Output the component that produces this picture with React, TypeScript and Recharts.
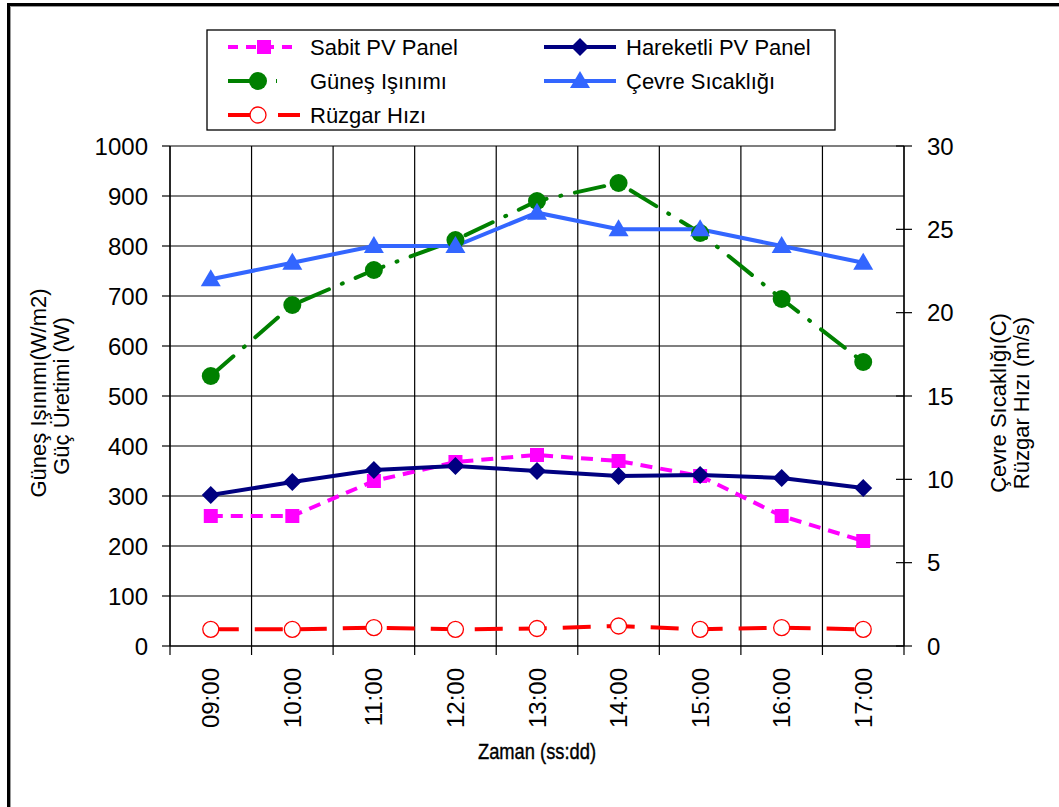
import React from "react";
import { CartesianGrid, Line, LineChart, XAxis, YAxis } from "recharts";

const hours = ["09:00", "10:00", "11:00", "12:00", "13:00", "14:00", "15:00", "16:00", "17:00"];
const sabitPV = [260, 260, 330, 368, 382, 370, 340, 260, 210];
const hareketliPV = [302, 328, 352, 360, 350, 340, 342, 336, 316];
const gunesIsinimi = [540, 682, 752, 812, 890, 926, 826, 694, 568];
const cevreSicakligi = [22, 23, 24, 24, 26, 25, 25, 24, 23];
const ruzgarHizi = [1.0, 1.0, 1.1, 1.0, 1.05, 1.2, 1.0, 1.1, 1.0];
const leftTicks = [0, 100, 200, 300, 400, 500, 600, 700, 800, 900, 1000];
const rightTicks = [0, 5, 10, 15, 20, 25, 30];

const data = hours.map((saat, i) => ({
  saat,
  sabit: sabitPV[i],
  hareketli: hareketliPV[i],
  gunes: gunesIsinimi[i],
  cevre: cevreSicakligi[i],
  ruzgar: ruzgarHizi[i],
}));

const FONT = '"Liberation Sans", Arial, sans-serif';
const W = 1059;
const H = 807;
const LEFT = 170;
const RIGHT = 904;
const TOP = 146;
const BOTTOM = 646;
const BAND = (RIGHT - LEFT) / hours.length;

const colors = {
  sabit: "#ff00ff",
  hareketli: "#000080",
  gunes: "#008000",
  cevre: "#3366ff",
  ruzgar: "#ff0000",
};
const dashes = {
  sabit: "12 8",
  gunes: "30 14 1 14",
  ruzgar: "28 16",
};

const Square = ({ cx, cy }: any) => (
  <rect x={cx - 7} y={cy - 7} width={14} height={14} fill={colors.sabit} />
);
const Diamond = ({ cx, cy }: any) => (
  <polygon points={`${cx},${cy - 9} ${cx + 9},${cy} ${cx},${cy + 9} ${cx - 9},${cy}`} fill={colors.hareketli} />
);
const Dot = ({ cx, cy }: any) => <circle cx={cx} cy={cy} r={9} fill={colors.gunes} />;
const Triangle = ({ cx, cy }: any) => (
  <polygon points={`${cx},${cy - 10} ${cx + 10},${cy + 7} ${cx - 10},${cy + 7}`} fill={colors.cevre} />
);
const OpenDot = ({ cx, cy }: any) => (
  <circle cx={cx} cy={cy} r={8} fill="#fff" stroke={colors.ruzgar} strokeWidth={1.3} />
);

const HourTick = ({ x, payload, index }: any) => (
  <g>
    <line x1={x - BAND / 2} x2={x - BAND / 2} y1={BOTTOM} y2={BOTTOM + 9} stroke="#000" strokeWidth={1.2} />
    {index === hours.length - 1 && (
      <line x1={x + BAND / 2} x2={x + BAND / 2} y1={BOTTOM} y2={BOTTOM + 9} stroke="#000" strokeWidth={1.2} />
    )}
    <text
      x={x}
      y={668}
      transform={`rotate(-90 ${x} 668)`}
      textAnchor="end"
      dominantBaseline="central"
      fontSize={24}
      fontFamily={FONT}
      fill="#000"
    >
      {payload.value}
    </text>
  </g>
);

const LeftTick = ({ y, payload }: any) => (
  <g>
    <line x1={LEFT - 8} x2={LEFT} y1={y} y2={y} stroke="#000" strokeWidth={1.2} />
    <text x={148} y={y} textAnchor="end" dominantBaseline="central" fontSize={24} fontFamily={FONT} fill="#000">
      {payload.value}
    </text>
  </g>
);

const RightTick = ({ y, payload }: any) => (
  <g>
    <line x1={RIGHT - 8} x2={RIGHT + 8} y1={y} y2={y} stroke="#000" strokeWidth={1.2} />
    <text x={927} y={y} textAnchor="start" dominantBaseline="central" fontSize={24} fontFamily={FONT} fill="#000">
      {payload.value}
    </text>
  </g>
);

const VerticalTitle = ({ lines }: { lines: { x: number; y: number; text: string }[] }) => (
  <g>
    {lines.map((l) => (
      <text
        key={l.text}
        x={l.x}
        y={l.y}
        transform={`rotate(-90 ${l.x} ${l.y})`}
        textAnchor="middle"
        dominantBaseline="central"
        fontSize={22}
        fontFamily={FONT}
        fill="#000"
      >
        {l.text}
      </text>
    ))}
  </g>
);

// narrow, slightly heavy x-axis title
const TimeTitle = () => (
  <text
    x={(LEFT + RIGHT) / 2}
    y={751}
    textAnchor="middle"
    dominantBaseline="central"
    fontSize={22}
    fontFamily={FONT}
    fill="#000"
    stroke="#000"
    strokeWidth={0.4}
    textLength={118}
    lengthAdjust="spacingAndGlyphs"
  >
    Zaman (ss:dd)
  </text>
);

const leftTitle = [
  { x: 38, y: 393, text: "Güneş Işınımı(W/m2)" },
  { x: 61, y: 396, text: "Güç Üretimi (W)" },
];
const rightTitle = [
  { x: 998, y: 403, text: "Çevre Sıcaklığı(C)" },
  { x: 1021, y: 403, text: "Rüzgar Hızı (m/s)" },
];

function ChartLegend() {
  const row = (y: number, x0: number, color: string, dash: string | undefined, marker: React.ReactNode, label: string) => (
    <g key={label}>
      <line x1={x0} x2={x0 + 72} y1={y} y2={y} stroke={color} strokeWidth={4} strokeDasharray={dash} />
      {marker}
      <text x={x0 + 82} y={y} dominantBaseline="central" fontSize={22} fontFamily={FONT} fill="#000">
        {label}
      </text>
    </g>
  );
  return (
    <svg width={630} height={102} style={{ position: "absolute", left: 206, top: 29 }}>
      <rect x={1} y={1} width={628} height={100} fill="#fff" stroke="#000" strokeWidth={1.3} />
      {row(18, 22, colors.sabit, "10 8", <Square cx={58} cy={18} />, "Sabit PV Panel")}
      {row(18, 338, colors.hareketli, undefined, <Diamond cx={374} cy={18} />, "Hareketli PV Panel")}
      {row(52, 22, colors.gunes, "34 14 1 40", <Dot cx={52} cy={52} />, "Güneş Işınımı")}
      {row(52, 338, colors.cevre, undefined, <Triangle cx={374} cy={52} />, "Çevre Sıcaklığı")}
      {row(86, 22, colors.ruzgar, "34 16", <OpenDot cx={52} cy={86} />, "Rüzgar Hızı")}
    </svg>
  );
}

export default function App() {
  return (
    <div style={{ position: "absolute", left: 0, top: 0, width: W, height: H, background: "#fff", overflow: "hidden" }}>
      <div
        style={{
          position: "absolute",
          left: 7,
          top: 3,
          width: W - 7,
          height: H - 3,
          boxSizing: "border-box",
          borderTop: "3px solid #000",
          borderLeft: "3px solid #000",
          boxShadow: "inset 1px 1px 0 #999",
        }}
      />
      <LineChart width={W} height={H} data={data} margin={{ top: TOP, right: 0, bottom: 61, left: 0 }}>
        <CartesianGrid
          yAxisId="left"
          stroke="#000"
          strokeWidth={1.2}
          verticalCoordinatesGenerator={({ offset }: any) =>
            hours.map((_, i) => offset.left + (offset.width * i) / hours.length).concat(offset.left + offset.width)
          }
        />
        <XAxis
          dataKey="saat"
          height={100}
          padding={{ left: BAND / 2, right: BAND / 2 }}
          tickLine={false}
          axisLine={{ stroke: "#000", strokeWidth: 1.2 }}
          tick={<HourTick />}
          interval={0}
          label={{ content: () => <TimeTitle /> }}
        />
        <YAxis
          yAxisId="left"
          width={LEFT}
          domain={[0, 1000]}
          ticks={leftTicks}
          tickLine={false}
          axisLine={{ stroke: "#000", strokeWidth: 1.2 }}
          tick={<LeftTick />}
          label={{ content: () => <VerticalTitle lines={leftTitle} /> }}
        />
        <YAxis
          yAxisId="right"
          orientation="right"
          width={W - RIGHT}
          domain={[0, 30]}
          ticks={rightTicks}
          tickLine={false}
          axisLine={{ stroke: "#000", strokeWidth: 1.2 }}
          tick={<RightTick />}
          label={{ content: () => <VerticalTitle lines={rightTitle} /> }}
        />
        <Line
          yAxisId="left"
          dataKey="sabit"
          stroke={colors.sabit}
          strokeWidth={4}
          strokeDasharray={dashes.sabit}
          dot={<Square />}
          isAnimationActive={false}
        />
        <Line
          yAxisId="left"
          dataKey="hareketli"
          stroke={colors.hareketli}
          strokeWidth={4}
          dot={<Diamond />}
          isAnimationActive={false}
        />
        <Line
          yAxisId="left"
          dataKey="gunes"
          stroke={colors.gunes}
          strokeWidth={4}
          strokeDasharray={dashes.gunes}
          strokeLinecap="round"
          dot={<Dot />}
          isAnimationActive={false}
        />
        <Line
          yAxisId="right"
          dataKey="cevre"
          stroke={colors.cevre}
          strokeWidth={4}
          dot={<Triangle />}
          isAnimationActive={false}
        />
        <Line
          yAxisId="right"
          dataKey="ruzgar"
          stroke={colors.ruzgar}
          strokeWidth={4}
          strokeDasharray={dashes.ruzgar}
          dot={<OpenDot />}
          isAnimationActive={false}
        />
      </LineChart>
      <ChartLegend />
    </div>
  );
}
